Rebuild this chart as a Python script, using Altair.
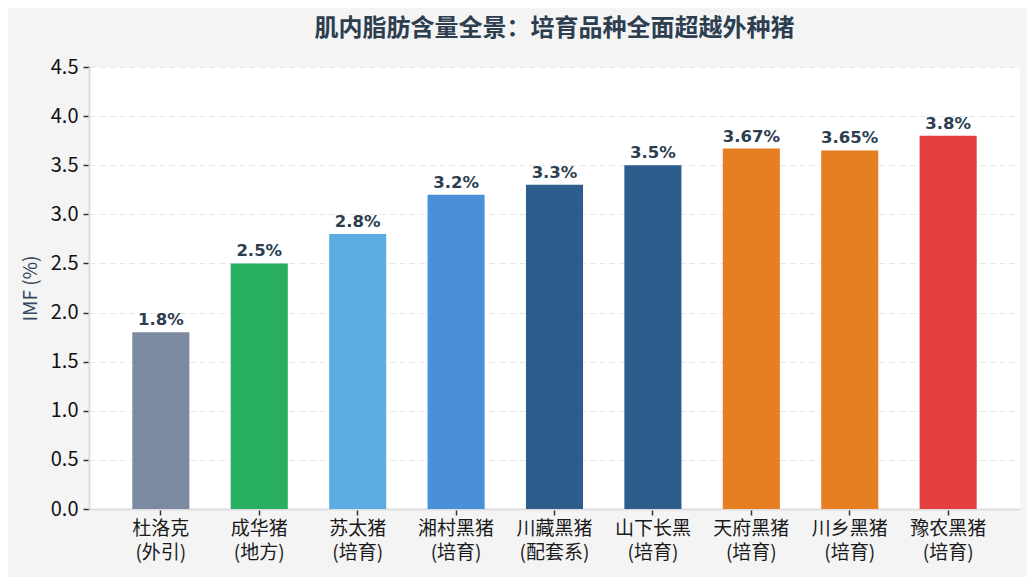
import altair as alt
import pandas as pd

breeds = ["杜洛克\n(外引)", "成华猪\n(地方)", "苏太猪\n(培育)", "湘村黑猪\n(培育)", "川藏黑猪\n(配套系)",
          "山下长黑\n(培育)", "天府黑猪\n(培育)", "川乡黑猪\n(培育)", "豫农黑猪\n(培育)"]
imf = [1.8, 2.5, 2.8, 3.2, 3.3, 3.5, 3.67, 3.65, 3.8]
labels = ["1.8%", "2.5%", "2.8%", "3.2%", "3.3%", "3.5%", "3.67%", "3.65%", "3.8%"]
colors = ["#7b8aa0", "#27ae60", "#5dade2", "#4a90d9", "#2c5d8c", "#2c5d8c", "#e67e22", "#e67e22", "#e44040"]

df = pd.DataFrame({"breed": breeds, "imf": imf, "label": labels})

FONT = "Noto Sans CJK SC"
x = alt.X("breed:N", sort=None,
          scale=alt.Scale(paddingInner=0.42, paddingOuter=0.44),
          axis=alt.Axis(title=None, labelAngle=0, labelExpr="split(datum.label, '\\n')",
                        labelFontSize=19, labelColor="#1a1a1a", labelFont=FONT,
                        labelLineHeight=24, labelPadding=4,
                        tickColor="#333333", tickSize=6, tickWidth=1.5,
                        domainColor="#dddddd", domainWidth=2, grid=False))
y = alt.Y("imf:Q", scale=alt.Scale(domain=[0, 4.5], nice=False),
          axis=alt.Axis(title="IMF (%)", values=[0, 0.5, 1, 1.5, 2, 2.5, 3, 3.5, 4, 4.5],
                        format=".1f", labelFontSize=20, labelColor="#111111", labelFont=FONT,
                        titleFontSize=19, titleFontWeight="normal", titleColor="#34495e",
                        titleFont=FONT, titlePadding=10,
                        tickColor="#333333", tickSize=6, tickWidth=1.5, labelPadding=5,
                        domainColor="#dddddd", domainWidth=2,
                        grid=True, gridColor="#e6e6e6", gridDash=[6, 4], gridWidth=1.2))

bars = alt.Chart(df).mark_bar().encode(
    x=x, y=y,
    color=alt.Color("breed:N", sort=None, scale=alt.Scale(domain=breeds, range=colors), legend=None),
)
text = alt.Chart(df).mark_text(dy=-12, fontSize=16.5, fontWeight="bold", color="#2c3e50",
                               font="DejaVu Sans").encode(
    x=alt.X("breed:N", sort=None), y="imf:Q", text="label:N")

chart = (bars + text).properties(
    width=931, height=442,
    title=alt.TitleParams("肌内脂肪含量全景：培育品种全面超越外种猪", fontSize=24,
                          fontWeight="bold", color="#2c3e50", font=FONT, offset=16, anchor="middle"),
    background="#f4f4f4",
    padding={"left": 81, "top": 59, "right": 7, "bottom": 68},
    autosize=alt.AutoSizeParams(type="none"),
).configure_view(fill="white", stroke=None)

chart.save("out.html", embed_options={"renderer": "svg", "actions": False})
